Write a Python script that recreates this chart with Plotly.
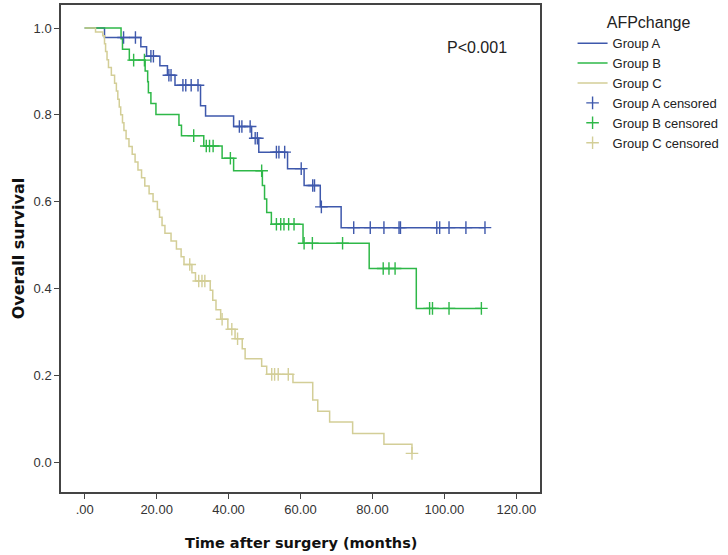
import numpy as np
import plotly.graph_objects as go

# ---- data ----
groups = ["Group A", "Group B", "Group C"]

A_time = [0, 5.5, 15.6, 17.2, 20.9, 23.0, 25.1, 32.2, 33.6, 41.4, 46.4, 48.4, 56.4, 61.0, 65.5, 71.3, 111.3]
A_surv = [1.0, 0.978, 0.957, 0.935, 0.913, 0.891, 0.868, 0.821, 0.797, 0.773, 0.746, 0.714, 0.676, 0.637, 0.588, 0.540, 0.540]
A_cens = [10.8, 14.1, 18.4, 19.1, 23.4, 24.0, 27.3, 28.1, 29.6, 31.5, 43.0, 43.7, 46.0, 47.4, 48.0,
          53.3, 54.0, 55.6, 60.2, 63.4, 63.9, 65.8, 74.8, 79.4, 83.2, 87.4, 87.8, 97.9, 98.7, 101.3, 106.0, 111.3]

B_time = [0, 10.1, 10.5, 12.4, 16.8, 17.5, 17.7, 18.4, 19.8, 26.2, 26.9, 33.1, 38.2, 41.4, 49.4, 50.0, 50.6, 51.9,
          60.7, 79.1, 92.2, 110.3]
B_surv = [1.0, 0.975, 0.951, 0.926, 0.901, 0.876, 0.851, 0.826, 0.801, 0.776, 0.752, 0.728, 0.700, 0.671, 0.637,
          0.606, 0.575, 0.548, 0.504, 0.446, 0.354, 0.354]
B_cens = [13.6, 16.6, 30.3, 33.8, 34.7, 35.7, 40.5, 49.2, 53.3, 54.5, 55.4, 56.7, 58.2, 61.0, 63.3, 71.7,
          83.0, 84.6, 86.3, 95.9, 96.7, 101.3, 110.3]

C_time = [0, 3.0, 5.0, 5.5, 5.8, 6.2, 6.6, 7.4, 8.3, 8.8, 9.2, 9.6, 10.0, 10.5, 10.9, 11.5, 12.3, 13.2, 14.0, 14.8,
          15.8, 16.7, 17.9, 19.0, 20.2, 20.8, 21.5, 22.3, 24.0, 25.5, 26.8, 27.6, 29.8, 30.8, 34.9, 35.6, 36.5, 37.8,
          39.8, 41.8, 43.8, 44.6, 49.2, 50.6, 57.9, 63.4, 64.8, 68.1, 74.5, 83.2, 91.0]
C_surv = [1.0, 0.991, 0.982, 0.964, 0.946, 0.927, 0.909, 0.891, 0.873, 0.855, 0.836, 0.818, 0.800, 0.782, 0.764,
          0.745, 0.727, 0.709, 0.691, 0.673, 0.655, 0.636, 0.618, 0.600, 0.582, 0.564, 0.545, 0.527, 0.509, 0.491,
          0.473, 0.455, 0.436, 0.417, 0.396, 0.373, 0.351, 0.329, 0.306, 0.284, 0.261, 0.238, 0.221, 0.202, 0.183,
          0.143, 0.117, 0.092, 0.066, 0.041, 0.020]
C_cens = [29.2, 31.7, 32.6, 33.4, 38.2, 40.9, 42.5, 52.0, 52.8, 53.8, 56.6, 91.0]

x_ticks = [0, 20, 40, 60, 80, 100, 120]
x_ticktext = [".00", "20.00", "40.00", "60.00", "80.00", "100.00", "120.00"]
y_ticks = [0.0, 0.2, 0.4, 0.6, 0.8, 1.0]
y_ticktext = ["0.0", "0.2", "0.4", "0.6", "0.8", "1.0"]

p_text = "P<0.001"
legend_title = "AFPchange"
x_title = "Time after surgery (months)"
y_title = "Overall survival"

colors = ["#3E58AC", "#2EB848", "#D3CE97"]
FONT = "Liberation Sans, Arial, sans-serif"
TITLE_FONT = "DejaVu Sans, Verdana, sans-serif"


def surv_at(times, survs, t):
    idx = np.searchsorted(np.asarray(times), t, side="right") - 1
    return np.asarray(survs)[idx]


series = [(A_time, A_surv, A_cens), (B_time, B_surv, B_cens), (C_time, C_surv, C_cens)]

fig = go.Figure()
for name, col, (t, s, c) in zip(groups, colors, series):
    fig.add_trace(go.Scatter(x=t, y=s, mode="lines", line=dict(color=col, width=1.5, shape="hv"),
                             name=name))
for name, col, (t, s, c) in zip(groups, colors, series):
    fig.add_trace(go.Scatter(x=c, y=surv_at(t, s, c), mode="markers",
                             marker=dict(symbol="cross-thin", size=9, line=dict(color=col, width=1.4)),
                             name=name + " censored"))

fig.add_annotation(x=109, y=0.955, xref="x", yref="y", text=p_text, showarrow=False,
                   font=dict(family=FONT, size=16, color="#222"))
fig.add_annotation(x=0.5, y=-0.105, xref="paper", yref="paper", text="<b>" + x_title + "</b>",
                   showarrow=False, font=dict(family=TITLE_FONT, size=14.5, color="#111"), yanchor="middle")
fig.add_annotation(x=-0.088, y=0.5, xref="paper", yref="paper", text="<b>" + y_title + "</b>", textangle=-90,
                   showarrow=False, font=dict(family=TITLE_FONT, size=16, color="#111"), xanchor="center")

axis_common = dict(showgrid=False, zeroline=False, showline=True, linecolor="#444", linewidth=1.5, mirror=True,
                   ticks="outside", ticklen=5, tickcolor="#444", tickwidth=1.2,
                   tickfont=dict(family=FONT, size=13, color="#333"))
fig.update_xaxes(range=[-6.6, 126.6], tickvals=x_ticks, ticktext=x_ticktext, **axis_common)
fig.update_yaxes(range=[-0.069, 1.053], tickvals=y_ticks, ticktext=y_ticktext, **axis_common)

fig.update_layout(
    width=728, height=555,
    margin=dict(l=61, r=184, t=3, b=63),
    paper_bgcolor="white", plot_bgcolor="white",
    font=dict(family=FONT, size=13, color="#222"),
    legend=dict(x=1.068, y=0.995, xanchor="left", yanchor="top",
                title=dict(text=legend_title, font=dict(size=16, color="#222"), side="top center"),
                font=dict(size=13, color="#222"), itemwidth=30, tracegroupgap=0,
                bgcolor="rgba(0,0,0,0)"),
    showlegend=True,
)

fig.write_html("out.html", config={"displayModeBar": False},
               post_script="document.body.style.margin='0px';")
